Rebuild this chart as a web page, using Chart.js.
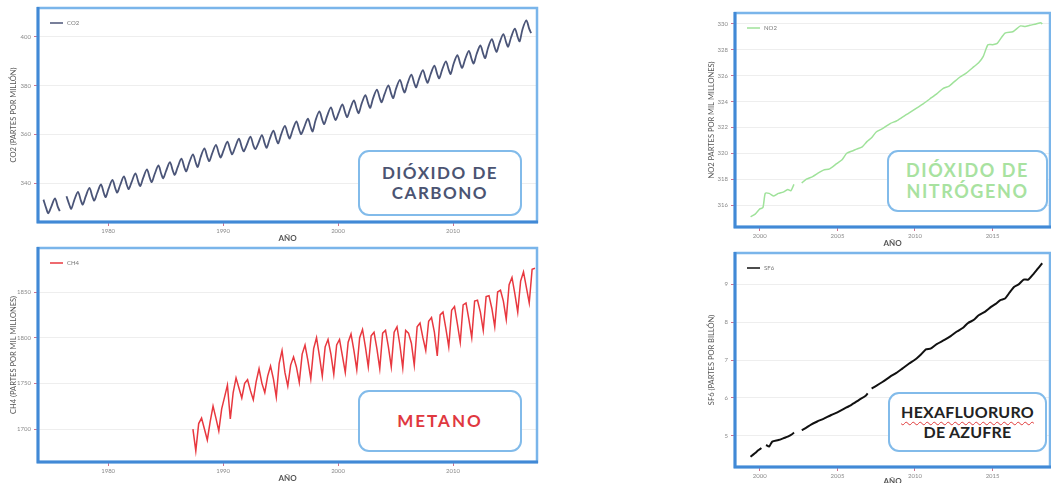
<!DOCTYPE html>
<html>
<head>
<meta charset="utf-8">
<script src="https://cdn.jsdelivr.net/npm/chart.js@4"></script>
<style>
  body { margin: 0; width: 1051px; height: 483px; position: relative; overflow: hidden; background: #fff; }
  canvas { position: absolute; }
  .tag {
    position: absolute; box-sizing: border-box; border: 2.5px solid #82bbea; border-radius: 11px;
    background: #fff; display: flex; align-items: center; justify-content: center; text-align: center;
    font-family: Lato, sans-serif; font-weight: 700; font-size: 17px; line-height: 20px;
  }
</style>
</head>
<body>
<canvas id="co2" width="545" height="245" style="left:0;top:0"></canvas>
<canvas id="ch4" width="545" height="243" style="left:0;top:240px"></canvas>
<canvas id="no2" width="361" height="248" style="left:690px;top:0"></canvas>
<canvas id="sf6" width="361" height="238" style="left:690px;top:245px"></canvas>

<div class="tag" style="left:358px;top:150px;width:164px;height:66px;color:#4b5472;letter-spacing:1.5px">DIÓXIDO DE<br>CARBONO</div>
<div class="tag" style="left:358px;top:390px;width:164px;height:62px;color:#e0383f;letter-spacing:2px">METANO</div>
<div class="tag" style="left:887px;top:150px;width:161px;height:62px;color:#a8e2a0;font-size:18px;line-height:21px;letter-spacing:1.6px">DIÓXIDO DE<br>NITRÓGENO</div>
<div class="tag" style="left:888px;top:392px;width:159px;height:60px;color:#222;font-size:16px;line-height:20px;letter-spacing:0.2px"><span><span style="text-decoration:underline wavy #e03a3a;text-decoration-thickness:1px;text-underline-offset:3px">HEXAFLUORURO</span><br>DE AZUFRE</span></div>

<script>
// CO2, Mauna Loa, valores en ene / may / ago / oct
const co2Years = [1974, 1975, 1976, 1977, 1978, 1979, 1980, 1981, 1982, 1983, 1984, 1985, 1986, 1987, 1988,
  1989, 1990, 1991, 1992, 1993, 1994, 1995, 1996, 1997, 1998, 1999, 2000, 2001, 2002, 2003, 2004,
  2005, 2006, 2007, 2008, 2009, 2010, 2011, 2012, 2013, 2014, 2015, 2016];
const co2Months = [1, 5, 8, 10];
const co2Values = [
  [null, 333.2, 329.5, 327.6], [330.1, 333.7, 330.2, 328.5], [null, 334.6, 331.1, 329.4],
  [332.8, 336.4, 332.9, 331.2], [334.4, 338.0, 334.5, 332.8], [335.8, 339.4, 335.9, 334.2],
  [337.7, 341.3, 337.8, 336.1], [339.1, 342.7, 339.2, 337.5], [340.4, 344.0, 340.5, 338.8],
  [342.0, 345.6, 342.1, 340.4], [343.6, 347.2, 343.7, 342.0], [345.0, 348.6, 345.1, 343.4],
  [346.4, 350.0, 346.5, 344.8], [348.2, 351.8, 348.3, 346.6], [350.6, 354.2, 350.7, 349.0],
  [352.1, 355.7, 352.2, 350.5], [353.4, 357.0, 353.5, 351.8], [354.6, 358.2, 354.7, 353.0],
  [355.5, 359.1, 355.6, 353.9], [356.1, 359.7, 356.2, 354.5], [357.9, 361.5, 358.0, 356.3],
  [359.9, 363.5, 360.0, 358.3], [361.7, 365.3, 361.8, 360.1], [362.8, 366.4, 362.9, 361.2],
  [365.8, 369.4, 365.9, 364.2], [367.5, 371.1, 367.6, 365.9], [368.7, 372.3, 368.8, 367.1],
  [370.3, 373.9, 370.4, 368.7], [372.5, 376.1, 372.6, 370.9], [374.8, 378.4, 374.9, 373.2],
  [376.5, 380.1, 376.6, 374.9], [378.8, 382.4, 378.9, 377.2], [380.9, 384.5, 381.0, 379.3],
  [382.8, 386.4, 382.9, 381.2], [384.6, 388.2, 384.7, 383.0], [386.4, 390.0, 386.5, 384.8],
  [388.9, 392.5, 389.0, 387.3], [390.7, 394.3, 390.8, 389.1], [392.9, 396.5, 393.0, 391.3],
  [395.5, 399.1, 395.6, 393.9], [397.6, 401.2, 397.7, 396.0], [399.8, 403.4, 399.9, 398.2],
  [403.2, 406.8, 403.3, 401.6]
];

// CH4, valores en feb / may / ago / nov
const ch4Years = [1987, 1988, 1989, 1990, 1991, 1992, 1993, 1994, 1995, 1996, 1997, 1998, 1999, 2000, 2001,
  2002, 2003, 2004, 2005, 2006, 2007, 2008, 2009, 2010, 2011, 2012, 2013, 2014, 2015, 2016, 2017];
const ch4Months = [2, 5, 8, 11];
const ch4Values = [
  [null, 1700, 1676, 1706], [1712, 1700, 1688, 1708], [1725, 1712, 1698, 1722], [1735, 1748, 1711, 1740],
  [1756, 1745, 1734, 1750], [1754, 1742, 1732, 1752], [1766, 1750, 1740, 1758], [1769, 1755, 1735, 1772],
  [1786, 1762, 1747, 1770], [1779, 1768, 1751, 1782], [1792, 1775, 1755, 1788], [1800, 1780, 1758, 1790],
  [1798, 1782, 1760, 1792], [1798, 1780, 1762, 1795], [1804, 1786, 1765, 1800], [1809, 1790, 1768, 1802],
  [1806, 1788, 1766, 1805], [1808, 1790, 1768, 1806], [1812, 1792, 1767, 1808], [1805, 1794, 1770, 1812],
  [1816, 1800, 1786, 1818], [1822, 1806, 1780, 1825], [1828, 1810, 1790, 1830], [1834, 1815, 1795, 1836],
  [1838, 1820, 1800, 1840], [1841, 1828, 1808, 1845], [1846, 1832, 1812, 1850], [1852, 1840, 1820, 1858],
  [1866, 1848, 1828, 1862], [1872, 1855, 1838, 1875], [1876, null, null, null]
];

const no2Dates = [1999.4, 1999.7, 2000.0, 2000.2, 2000.35, 2000.6, 2000.9, 2001.2, 2001.5, 2001.8, 2002.0,
  2002.2, 2002.4, 2002.7, 2003.0, 2003.4, 2003.8, 2004.1, 2004.5, 2004.95, 2005.3, 2005.6, 2006.0, 2006.2,
  2006.6, 2006.9, 2007.2, 2007.5, 2007.9, 2008.4, 2008.8, 2009.2, 2009.6, 2010.1, 2010.5, 2010.95, 2011.4,
  2011.8, 2012.2, 2012.5, 2012.9, 2013.3, 2013.8, 2014.1, 2014.4, 2014.7, 2015.0, 2015.3, 2015.8, 2016.3,
  2016.8, 2017.1, 2017.4, 2017.8, 2018.1, 2018.2];
const no2Values = [315.1, 315.3, 315.7, 315.8, 316.9, 316.9, 316.7, 316.9, 317.0, 317.2, 317.1,
  317.6, null, 317.7, 318.0, 318.2, 318.5, 318.7, 318.8, 319.2, 319.5, 320.0, 320.2, 320.3,
  320.5, 320.9, 321.2, 321.65, 321.9, 322.3, 322.5, 322.8, 323.1, 323.5, 323.8, 324.2, 324.6,
  325.0, 325.2, 325.5, 325.9, 326.2, 326.7, 327.0, 327.5, 328.4, 328.4, 328.5, 329.3, 329.4,
  329.85, 329.8, 329.9, 330.0, 330.1, 330.0];

const sf6Dates = [1999.4, 1999.7, 1999.9, 2000.1, 2000.25, 2000.4, 2000.6, 2000.8, 2001.2, 2001.6, 2001.8,
  2002.1, 2002.2, 2002.35, 2002.7, 2003.0, 2003.3, 2003.7, 2004.1, 2004.6, 2005.0, 2005.5, 2005.9, 2006.4,
  2006.8, 2006.95, 2007.05, 2007.2, 2007.5, 2007.9, 2008.4, 2008.8, 2009.2, 2009.6, 2010.1, 2010.4, 2010.7,
  2011.0, 2011.4, 2011.9, 2012.3, 2012.7, 2013.1, 2013.4, 2013.8, 2014.1, 2014.5, 2014.9, 2015.2, 2015.5,
  2015.8, 2016.1, 2016.4, 2016.7, 2017.0, 2017.3, 2017.6, 2017.9, 2018.1, 2018.2];
const sf6Values = [4.45, 4.55, 4.62, 4.68, null, 4.76, 4.72, 4.85, 4.89, 4.95, 4.98,
  5.05, 5.09, null, 5.15, 5.22, 5.30, 5.38, 5.45, 5.55, 5.62, 5.73, 5.82, 5.95,
  6.05, 6.12, null, 6.25, 6.32, 6.42, 6.56, 6.66, 6.78, 6.90, 7.04, 7.15, 7.28,
  7.30, 7.42, 7.53, 7.63, 7.75, 7.85, 7.97, 8.06, 8.18, 8.27, 8.40, 8.48, 8.58,
  8.62, 8.78, 8.93, 9.00, 9.12, 9.12, 9.25, 9.40, 9.50, 9.55];

const leftYearTicks = [1980, 1990, 2000, 2010];
const rightYearTicks = [2000, 2005, 2010, 2015];
const co2Ticks = [340, 360, 380, 400];
const ch4Ticks = [1700, 1750, 1800, 1850];
const no2Ticks = [316, 318, 320, 322, 324, 326, 328, 330];
const sf6Ticks = [5, 6, 7, 8, 9];

function monthly(years, months, rows) {
  const pts = [];
  years.forEach((yr, i) => months.forEach((m, j) => {
    pts.push({ x: yr + (m - 0.5) / 12, y: rows[i][j] });
  }));
  while (pts.length && pts[0].y === null) pts.shift();
  while (pts.length && pts[pts.length - 1].y === null) pts.pop();
  return pts;
}
const pairs = (xs, ys) => xs.map((x, i) => ({ x: x, y: ys[i] }));

// blue frame + small legend inside the plot area
const panelFrame = {
  id: 'panelFrame',
  afterDraw(chart) {
    const { ctx, chartArea: a } = chart;
    const ds = chart.data.datasets[0];
    ctx.save();
    ctx.strokeStyle = '#7ab5ea';
    ctx.lineWidth = 2.5;
    ctx.strokeRect(a.left, a.top, a.right - a.left, a.bottom - a.top);
    ctx.strokeStyle = '#4189d6';
    ctx.lineWidth = 3;
    ctx.beginPath();
    ctx.moveTo(a.left, a.top - 1);
    ctx.lineTo(a.left, a.bottom);
    ctx.lineTo(a.right + 1, a.bottom);
    ctx.stroke();
    ctx.strokeStyle = ds.borderColor;
    ctx.lineWidth = 1.5;
    ctx.beginPath();
    ctx.moveTo(a.left + 12, a.top + 15);
    ctx.lineTo(a.left + 25, a.top + 15);
    ctx.stroke();
    ctx.fillStyle = '#777';
    ctx.font = '6px Lato';
    ctx.textBaseline = 'middle';
    ctx.fillText(ds.label, a.left + 29, a.top + 15);
    ctx.restore();
  }
};

function makeChart(id, cfg) {
  const ctx = document.getElementById(id).getContext('2d');
  return new Chart(ctx, {
    type: 'line',
    plugins: [panelFrame],
    data: {
      datasets: [{
        label: cfg.label,
        data: cfg.data,
        borderColor: cfg.color,
        borderWidth: cfg.width,
        pointRadius: 0,
        tension: cfg.tension,
        spanGaps: false
      }]
    },
    options: {
      responsive: false,
      animation: false,
      layout: { padding: cfg.padding },
      plugins: { legend: { display: false }, tooltip: { enabled: false } },
      scales: {
        x: {
          type: 'linear',
          min: cfg.xMin,
          max: cfg.xMax,
          afterBuildTicks: s => { s.ticks = cfg.xTicks.map(v => ({ value: v })); },
          afterFit: s => { s.height = cfg.xHeight; },
          grid: { drawOnChartArea: false, drawTicks: true, tickLength: 4, tickColor: '#d0708c', lineWidth: 1 },
          border: { display: false },
          ticks: { color: '#8a8a8a', font: { size: 6, family: 'Lato' }, padding: 1, maxRotation: 0,
                   autoSkip: false, callback: v => String(v) },
          title: { display: true, text: 'AÑO', color: '#555', font: { size: 8, family: 'Lato', weight: 'bold' },
                   padding: { top: 0, bottom: cfg.xTitlePad } }
        },
        y: {
          type: 'linear',
          min: cfg.yMin,
          max: cfg.yMax,
          afterBuildTicks: s => { s.ticks = cfg.yTicks.map(v => ({ value: v })); },
          afterFit: s => { s.width = cfg.yWidth; },
          grid: { color: '#eeeeee', lineWidth: 1, tickLength: 4, tickColor: '#d0708c' },
          border: { display: false },
          ticks: { color: '#8a8a8a', font: { size: 6, family: 'Lato' }, padding: 3,
                   autoSkip: false, callback: v => String(v) },
          title: { display: true, text: cfg.yTitle, color: '#555', font: { size: 7.5, family: 'Lato' },
                   padding: { top: cfg.yTitlePad, bottom: 0 } }
        }
      }
    }
  });
}

makeChart('co2', {
  label: 'CO2', data: monthly(co2Years, co2Months, co2Values), color: '#4b5578', width: 1.8, tension: 0.3,
  padding: { top: 8, right: 8, left: 0, bottom: 0 }, xHeight: 23, yWidth: 38, xTitlePad: 2, yTitlePad: 9,
  xMin: 1973.9, xMax: 2017.3, xTicks: leftYearTicks,
  yMin: 324, yMax: 411.9, yTicks: co2Ticks, yTitle: 'CO2 (PARTES POR MILLÓN)'
});

makeChart('ch4', {
  label: 'CH4', data: monthly(ch4Years, ch4Months, ch4Values), color: '#e8383f', width: 1.5, tension: 0,
  padding: { top: 8, right: 8, left: 0, bottom: 0 }, xHeight: 21, yWidth: 38, xTitlePad: 0, yTitlePad: 9,
  xMin: 1973.9, xMax: 2017.3, xTicks: leftYearTicks,
  yMin: 1663.9, yMax: 1898.2, yTicks: ch4Ticks, yTitle: 'CH4 (PARTES POR MIL MILLONES)'
});

makeChart('no2', {
  label: 'NO2', data: pairs(no2Dates, no2Values), color: '#9fe29a', width: 1.5, tension: 0.2,
  padding: { top: 13, right: 1, left: 0, bottom: 0 }, xHeight: 21, yWidth: 45, xTitlePad: 0, yTitlePad: 17,
  xMin: 1998.4, xMax: 2018.7, xTicks: rightYearTicks,
  yMin: 314.3, yMax: 330.85, yTicks: no2Ticks, yTitle: 'NO2 PARTES POR MIL MILLONES)'
});

makeChart('sf6', {
  label: 'SF6', data: pairs(sf6Dates, sf6Values), color: '#111111', width: 2, tension: 0.2,
  padding: { top: 8, right: 1, left: 0, bottom: 0 }, xHeight: 16, yWidth: 45, xTitlePad: -3, yTitlePad: 17,
  xMin: 1998.4, xMax: 2018.7, xTicks: rightYearTicks,
  yMin: 4.18, yMax: 9.82, yTicks: sf6Ticks, yTitle: 'SF6 (PARTES POR BILLÓN)'
});
</script>
</body>
</html>
